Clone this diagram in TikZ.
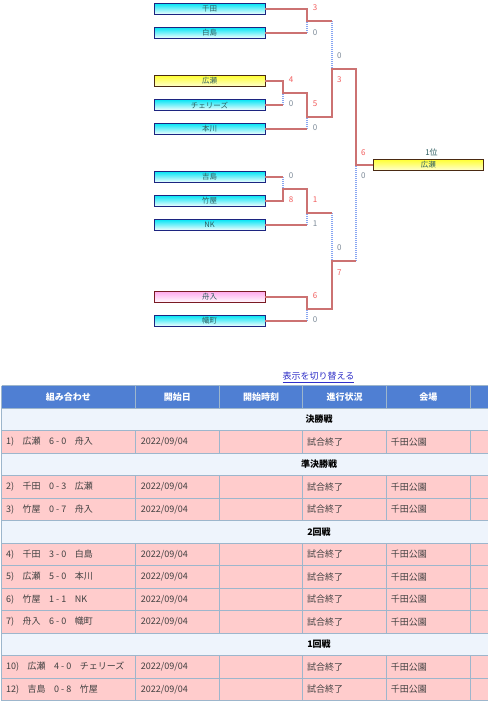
\documentclass[tikz,border=0pt]{standalone}
\usepackage{fontspec}
\setmainfont{Noto Sans CJK JP}
\definecolor{redln}{HTML}{CC7272}
\definecolor{blueln}{HTML}{88A6F2}
\definecolor{redsc}{HTML}{F25C5C}
\definecolor{graysc}{HTML}{7C8A98}
\definecolor{navyb}{HTML}{1C2480}
\definecolor{brownb}{HTML}{4A2A12}
\definecolor{maroonb}{HTML}{7A1A24}
\definecolor{cyanT}{HTML}{00E4F4}
\definecolor{yellowT}{HTML}{FFFF30}
\definecolor{pinkT}{HTML}{FFA8EC}
\definecolor{boxtxt}{HTML}{2E5E60}
\definecolor{hdr}{HTML}{4F7FD3}
\definecolor{secbg}{HTML}{EEF4FC}
\definecolor{pinkrow}{HTML}{FFCCCC}
\definecolor{gridc}{HTML}{9DB6CC}
\definecolor{celltxt}{HTML}{404040}
\definecolor{linkc}{HTML}{3030C8}
\tikzset{
  team/.style={draw=navyb, line width=0.8pt, top color=cyanT, bottom color=white,
    minimum width=111pt, minimum height=11.5pt, inner sep=0pt,
    font=\fontsize{7.5}{8}\selectfont, text=boxtxt},
  teamy/.style={team, draw=brownb, top color=yellowT, bottom color=white!80!yellowT},
  teamp/.style={team, draw=maroonb, top color=pinkT, bottom color=white},
  win/.style={draw=redln, line width=2pt},
  lose/.style={draw=blueln, line width=1.2pt, dash pattern=on 1pt off 1pt},
  scr/.style={font=\fontsize{8}{9}\selectfont, text=redsc, inner sep=0pt},
  scg/.style={font=\fontsize{8}{9}\selectfont, text=graysc, inner sep=0pt},
  hcell/.style={font=\fontsize{9}{10}\selectfont\bfseries, text=white, inner sep=0pt},
  cell/.style={font=\fontsize{9}{10}\selectfont, text=celltxt, inner sep=0pt, anchor=west},
  sect/.style={font=\fontsize{9}{10}\selectfont\bfseries, text=black, inner sep=0pt},
  grid/.style={draw=gridc, line width=1pt},
}
\newcommand{\gapx}{\hspace{8.5pt}}
\newcommand{\mrow}[3]{%
  \fill[pinkrow] (1.5,#2) rectangle (488,#2+22.5);
  \foreach \cx in {135.3,219.3,302.7,386.7,470} {\draw[grid] (\cx,#2) -- (\cx,#2+22.5);}
  \node[cell] (m#1a) at (6,#2+11.25) {#3};
  \node[cell] (m#1b) at (140.7,#2+11.25) {2022/09/04};
  \node[cell] (m#1c) at (307,#2+11.25) {試合終了};
  \node[cell] (m#1d) at (390.7,#2+11.25) {千田公園};
}
\newcommand{\srow}[3]{%
  \fill[secbg] (1.5,#2) rectangle (488,#2+22.5);
  \node[sect] (s#1) at (319,#2+11.25) {#3};
}
\begin{document}
\begin{tikzpicture}[x=1pt,y=-1pt]
\fill[white] (0,0) rectangle (488,705);
\useasboundingbox (0,0) rectangle (488,705);

% ---------- bracket boxes ----------
\node[team]  (chida)  at (209.5,9)   {千田};
\node[team]  (shiro)  at (209.5,33)  {白島};
\node[teamy] (hirose) at (209.5,81)  {広瀬};
\node[team]  (cherry) at (209.5,105) {チェリーズ};
\node[team]  (hon)    at (209.5,129) {本川};
\node[team]  (yoshi)  at (209.5,177) {吉島};
\node[team]  (take)   at (209.5,201) {竹屋};
\node[team]  (nk)     at (209.5,225) {NK};
\node[teamp] (funa)   at (209.5,297) {舟入};
\node[team]  (nobori) at (209.5,321) {幟町};
\node[teamy, minimum width=110pt] (final) at (428.3,165) {広瀬};
\node[scg, text=boxtxt] (rank) at (431.5,152.3) {1位};

% ---------- junctions ----------
\coordinate (jA) at (283,93);
\coordinate (jB) at (283,189);
\coordinate (j4) at (307,21);
\coordinate (j5) at (307,117);
\coordinate (j6) at (307,213);
\coordinate (j7) at (307,309);
\coordinate (s2top) at (332,21);
\coordinate (jS2) at (332,69);
\coordinate (s3top) at (332,213);
\coordinate (jS3) at (332,261);
\coordinate (fbot) at (356,261);
\coordinate (jF) at (356,165);

% ---------- losing (dotted) segments ----------
\draw[lose] (shiro.east -| j4) -- (j4);
\draw[lose] (cherry.east -| jA) -- (jA);
\draw[lose] (hon.east -| j5) -- (j5);
\draw[lose] (yoshi.east -| jB) -- (jB);
\draw[lose] (nk.east -| j6) -- (j6);
\draw[lose] (nobori.east -| j7) -- (j7);
\draw[lose] (s2top) -- (jS2);
\draw[lose] (s3top) -- (jS3);
\draw[lose] (fbot) -- (jF);

% ---------- red lines ----------
\draw[win] (shiro.east) -- (shiro.east -| j4);
\draw[win] (cherry.east) -- (cherry.east -| jA);
\draw[win] (hon.east) -- (hon.east -| j5);
\draw[win] (yoshi.east) -- (yoshi.east -| jB);
\draw[win] (nk.east) -- (nk.east -| j6);
\draw[win] (nobori.east) -- (nobori.east -| j7);
\draw[win] (chida.east) -| (j4) -- (s2top);
\draw[win] (hirose.east) -| (jA) -| (j5) -| (jS2) -| (jF) -- (final.west);
\draw[win] (take.east) -| (jB) -| (j6) -- (s3top);
\draw[win] (funa.east) -| (j7) -| (jS3) -- (fbot);

% ---------- scores ----------
\node[scr] (c1) at (315,7.3) {3};
\node[scg] (c2) at (315,32.3) {0};
\node[scg] (c3) at (339.3,56) {0};
\node[scr] (c4) at (339.3,80) {3};
\node[scr] (c5) at (291,80) {4};
\node[scg] (c6) at (291,104) {0};
\node[scr] (c7) at (315,104) {5};
\node[scg] (c8) at (315,128) {0};
\node[scg] (c9) at (291,175.7) {0};
\node[scr] (c10) at (291,200) {8};
\node[scr] (c11) at (315,200) {1};
\node[scg] (c12) at (315,224) {1};
\node[scg] (c13) at (339.3,247.7) {0};
\node[scr] (c14) at (339.3,272.3) {7};
\node[scr] (c15) at (315,296) {6};
\node[scg] (c16) at (315,320) {0};
\node[scr] (c17) at (363.3,152.3) {6};
\node[scg] (c18) at (363.3,175.7) {0};

% ---------- link ----------
\node[font=\fontsize{9}{10}\selectfont, text=linkc, inner sep=0pt] (toggle) at (318.5,377.5) {\underline{表示を切り替える}};

% ---------- table ----------
\fill[hdr] (1.5,385.7) rectangle (488,408.2);
\foreach \cx in {135.3,219.3,302.7,386.7,470} {\draw[grid] (\cx,385.7) -- (\cx,408.2);}
\node[hcell] (h1) at (68.4,397) {組み合わせ};
\node[hcell] (h2) at (177.3,397) {開始日};
\node[hcell] (h3) at (261,397) {開始時刻};
\node[hcell] (h4) at (344.7,397) {進行状況};
\node[hcell] (h5) at (428.3,397) {会場};

\srow{a}{408.2}{決勝戦}
\mrow{1}{430.7}{1)\gapx 広瀬\gapx 6 - 0\gapx 舟入}
\srow{b}{453.2}{準決勝戦}
\mrow{2}{475.7}{2)\gapx 千田\gapx 0 - 3\gapx 広瀬}
\mrow{3}{498.2}{3)\gapx 竹屋\gapx 0 - 7\gapx 舟入}
\srow{c}{520.7}{2回戦}
\mrow{4}{543.2}{4)\gapx 千田\gapx 3 - 0\gapx 白島}
\mrow{5}{565.7}{5)\gapx 広瀬\gapx 5 - 0\gapx 本川}
\mrow{6}{588.2}{6)\gapx 竹屋\gapx 1 - 1\gapx NK}
\mrow{7}{610.7}{7)\gapx 舟入\gapx 6 - 0\gapx 幟町}
\srow{d}{633.2}{1回戦}
\mrow{10}{655.7}{10)\gapx 広瀬\gapx 4 - 0\gapx チェリーズ}
\mrow{12}{678.2}{12)\gapx 吉島\gapx 0 - 8\gapx 竹屋}
\foreach \ry in {385.7,408.2,430.7,453.2,475.7,498.2,520.7,543.2,565.7,588.2,610.7,633.2,655.7,678.2,700.7} {\draw[grid] (1.5,\ry) -- (488,\ry);}
\draw[grid] (1.5,385.7) -- (1.5,700.7);
\end{tikzpicture}
\end{document}
